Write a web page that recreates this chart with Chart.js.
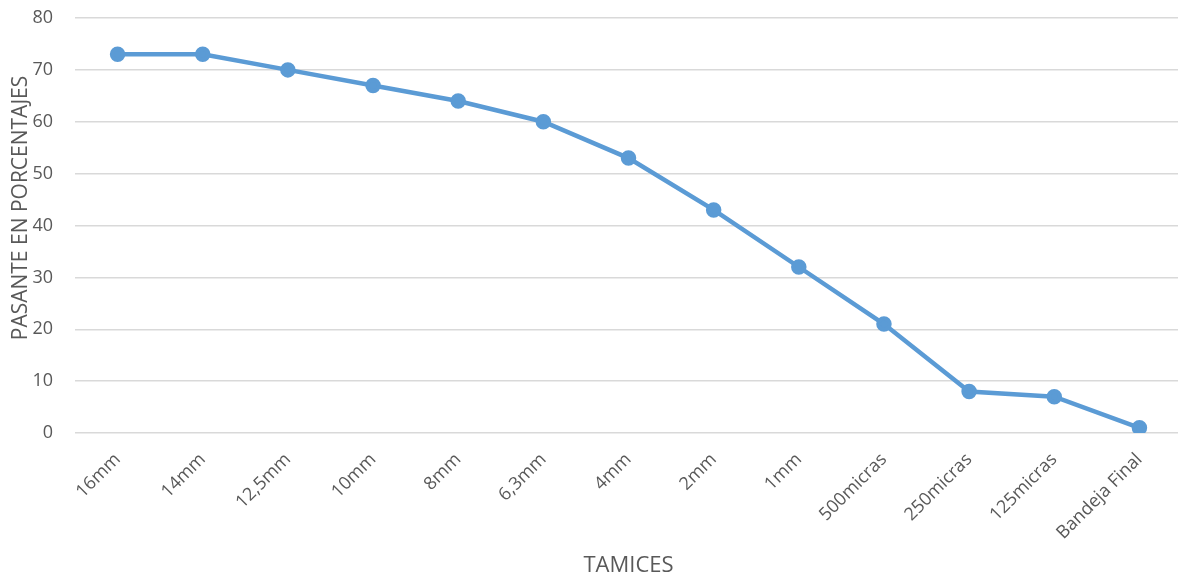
<!DOCTYPE html>
<html>
<head>
<meta charset="utf-8">
<script src="https://cdn.jsdelivr.net/npm/chart.js@4"></script>
<style>
  html, body { margin: 0; padding: 0; background: #ffffff; overflow: hidden; }
  #wrap { width: 1182px; height: 579px; }
</style>
</head>
<body>
<div id="wrap"><canvas id="grafico"></canvas></div>
<script>
const tamices = ['16mm', '14mm', '12,5mm', '10mm', '8mm', '6,3mm', '4mm', '2mm', '1mm', '500micras', '250micras', '125micras', 'Bandeja Final'];
const pasante = [73, 73, 70, 67, 64, 60, 53, 43, 32, 21, 8, 7, 1];
const ticksY = [0, 10, 20, 30, 40, 50, 60, 70, 80];
const tituloY = 'PASANTE EN PORCENTAJES';
const tituloX = 'TAMICES';

const azul = '#5b9bd5';
const gris = '#595959';

// titulo del eje Y, un poco por encima del centro como en Excel
const tituloEjeY = {
    id: 'tituloEjeY',
    afterDraw: function(chart) {
        const c = chart.ctx;
        c.save();
        c.translate(21, 208);
        c.rotate(-Math.PI / 2);
        c.fillStyle = gris;
        c.font = '21px "Open Sans"';
        c.textAlign = 'center';
        c.textBaseline = 'middle';
        c.fillText(tituloY, 0, 0);
        c.restore();
    }
};

const ctx = document.getElementById('grafico').getContext('2d');
const myChart = new Chart(ctx, {
    type: 'line',
    data: {
        labels: tamices,
        datasets: [{
            label: 'Pasante',
            data: pasante,
            borderColor: azul,
            backgroundColor: azul,
            borderWidth: 4.5,
            pointRadius: 5.5,
            pointBackgroundColor: azul,
            pointBorderColor: azul,
            tension: 0
        }]
    },
    options: {
        responsive: true,
        maintainAspectRatio: false,
        animation: false,
        layout: { autoPadding: false, padding: { top: 18, right: 0, bottom: 0, left: 0 } },
        plugins: {
            legend: { display: false },
            tooltip: { enabled: false }
        },
        scales: {
            x: {
                offset: true,
                grid: { display: false, drawTicks: false },
                border: { display: false },
                afterFit: function(axis) { axis.height = 146; },
                ticks: {
                    color: gris,
                    font: { family: 'Open Sans', size: 18 },
                    minRotation: 45,
                    maxRotation: 45,
                    autoSkip: false,
                    padding: 16
                },
                title: {
                    display: true,
                    text: tituloX,
                    color: gris,
                    font: { family: 'Open Sans', size: 22 },
                    padding: { top: 0, bottom: 0 }
                }
            },
            y: {
                min: 0,
                max: 80,
                afterBuildTicks: function(axis) {
                    axis.ticks = ticksY.map(function(v) { return { value: v }; });
                },
                afterFit: function(axis) {
                    axis.width = 75;
                    axis.paddingTop = 0;
                    axis.paddingBottom = 0;
                },
                grid: { color: '#d9d9d9', lineWidth: 1.5, drawTicks: false },
                border: { display: false },
                ticks: {
                    color: gris,
                    font: { family: 'Open Sans', size: 18 },
                    padding: 22
                }
            }
        }
    },
    plugins: [tituloEjeY]
});
</script>
</body>
</html>
